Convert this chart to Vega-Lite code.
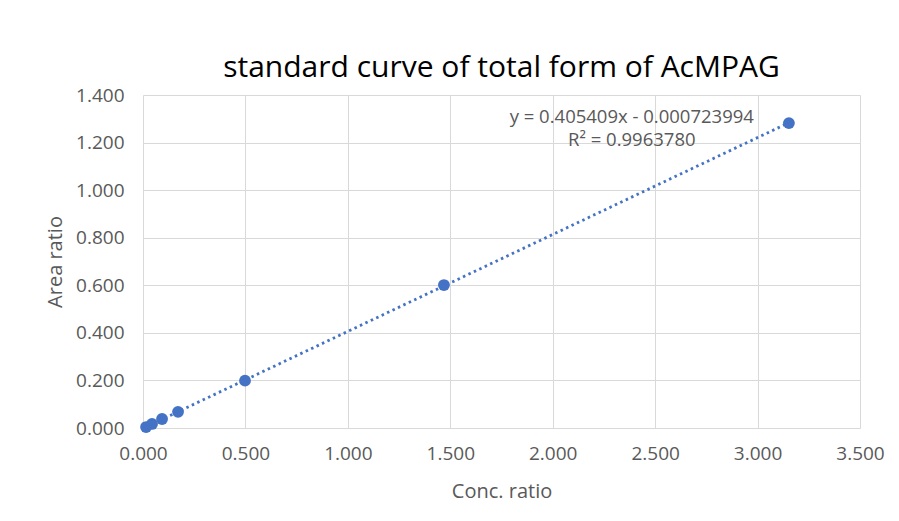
{
  "$schema": "https://vega.github.io/schema/vega-lite/v6.json",
  "width": 717,
  "height": 333,
  "autosize": {"type": "none"},
  "padding": {"left": 143, "top": 95, "right": 39, "bottom": 93},
  "background": "white",
  "title": {
    "text": "standard curve of total form of AcMPAG",
    "font": "Open Sans",
    "fontSize": 30,
    "fontWeight": 500,
    "color": "#000000",
    "anchor": "middle",
    "offset": 3
  },
  "config": {
    "font": "Open Sans",
    "view": {"stroke": null},
    "axis": {
      "labelFont": "Open Sans",
      "labelFontSize": 19,
      "labelColor": "#595959",
      "labelFlush": false,
      "labelOverlap": false,
      "titleFont": "Open Sans",
      "titleFontSize": 20,
      "titleFontWeight": "normal",
      "titleColor": "#595959",
      "gridColor": "#d9d9d9",
      "gridWidth": 1,
      "domain": false,
      "ticks": false
    }
  },
  "data": {
    "values": [
      {"conc": 0.015, "area": 0.004},
      {"conc": 0.044, "area": 0.017},
      {"conc": 0.093, "area": 0.038},
      {"conc": 0.171, "area": 0.068},
      {"conc": 0.498, "area": 0.199},
      {"conc": 1.469, "area": 0.601},
      {"conc": 3.153, "area": 1.282}
    ]
  },
  "layer": [
    {
      "transform": [{"regression": "area", "on": "conc", "extent": [0, 3.153]}],
      "mark": {"type": "line", "color": "#4472C4", "strokeWidth": 2.8, "strokeDash": [2.5, 3.5]},
      "encoding": {
        "x": {"field": "conc", "type": "quantitative"},
        "y": {"field": "area", "type": "quantitative"}
      }
    },
    {
      "mark": {"type": "circle", "color": "#4472C4", "opacity": 1, "size": 140},
      "encoding": {
        "x": {
          "field": "conc", "type": "quantitative",
          "scale": {"domain": [0, 3.5], "nice": false, "zero": false},
          "axis": {"values": [0, 0.5, 1, 1.5, 2, 2.5, 3, 3.5], "format": ".3f", "title": "Conc. ratio", "labelPadding": 16, "titlePadding": 18}
        },
        "y": {
          "field": "area", "type": "quantitative",
          "scale": {"domain": [0, 1.4], "nice": false, "zero": false},
          "axis": {"values": [0, 0.2, 0.4, 0.6, 0.8, 1.0, 1.2, 1.4], "format": ".3f", "title": "Area ratio", "labelPadding": 19, "titlePadding": 10}
        }
      }
    },
    {
      "data": {
        "values": [
          {"conc": 2.386, "area": 1.307, "label": "y = 0.405409x - 0.000723994"},
          {"conc": 2.386, "area": 1.211, "label": "R² = 0.9963780"}
        ]
      },
      "mark": {"type": "text", "font": "Open Sans", "fontSize": 18.5, "color": "#595959", "align": "center", "baseline": "middle"},
      "encoding": {
        "x": {"field": "conc", "type": "quantitative"},
        "y": {"field": "area", "type": "quantitative"},
        "text": {"field": "label", "type": "nominal"}
      }
    }
  ]
}
